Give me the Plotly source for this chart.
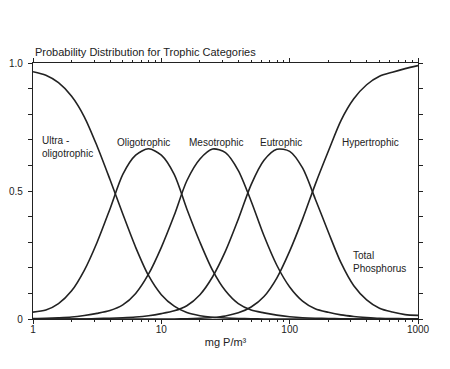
import math
import plotly.graph_objects as go

# Total phosphorus (mg/m3), log-spaced sample points
tp = [1, 1.26, 1.58, 2, 2.51, 3.16, 3.98, 5.01, 6.31, 7.94, 10, 12.6, 15.8, 20, 25.1,
      31.6, 39.8, 50.1, 63.1, 79.4, 100, 126, 158, 200, 251, 316, 398, 501, 631, 794, 1000]

ultra = [0.966, 0.952, 0.923, 0.87, 0.79, 0.675, 0.545, 0.41, 0.28, 0.17, 0.095, 0.05, 0.025,
         0.013, 0.007, 0.004, 0.002, 0.001, 0, 0, 0, 0, 0, 0, 0, 0, 0, 0, 0, 0, 0]
oligo = [0.027, 0.035, 0.06, 0.11, 0.19, 0.30, 0.43, 0.565, 0.64, 0.665, 0.64, 0.565, 0.43,
         0.30, 0.19, 0.11, 0.06, 0.035, 0.024, 0.015, 0.009, 0.005, 0.003, 0.002, 0.001,
         0, 0, 0, 0, 0, 0]
meso = [0.002, 0.003, 0.005, 0.008, 0.014, 0.022, 0.033, 0.055, 0.10, 0.175, 0.28, 0.405,
        0.54, 0.625, 0.664, 0.65, 0.58, 0.46, 0.325, 0.21, 0.125, 0.07, 0.04, 0.026, 0.016,
        0.01, 0.006, 0.003, 0.002, 0.001, 0.001]
eutro = [0, 0, 0, 0, 0, 0.002, 0.003, 0.005, 0.008, 0.013, 0.021, 0.032, 0.052, 0.095,
         0.165, 0.265, 0.39, 0.525, 0.62, 0.663, 0.655, 0.59, 0.47, 0.34, 0.22, 0.13, 0.075,
         0.042, 0.027, 0.017, 0.014]
hyper = [0, 0, 0, 0, 0, 0, 0, 0, 0, 0, 0, 0, 0.001, 0.003, 0.006, 0.012, 0.024, 0.047,
         0.088, 0.16, 0.265, 0.39, 0.525, 0.655, 0.775, 0.86, 0.915, 0.948, 0.964, 0.978, 0.99]

series = [ultra, oligo, meso, eutro, hyper]

# category labels and where they sit (x in mg/m3, y in probability)
labels = ["Ultra -<br>oligotrophic", "Oligotrophic", "Mesotrophic", "Eutrophic",
          "Hypertrophic", "Total<br>Phosphorus"]
label_x = [1.13, 7.2, 26.8, 86, 427, 302]
label_y = [0.67, 0.69, 0.69, 0.69, 0.69, 0.223]
label_anchor = ["left", "center", "center", "center", "center", "left"]

yticks = [0, 0.1, 0.2, 0.3, 0.4, 0.5, 0.6, 0.7, 0.8, 0.9, 1.0]
yticktext = ["0", "", "", "", "", "0.5", "", "", "", "", "1.0"]
xticks = [1, 10, 100, 1000]
xticktext = ["1", "10", "100", "1000"]
xminor = [2, 3, 4, 5, 6, 7, 8, 9, 20, 30, 40, 50, 60, 70, 80, 90,
          200, 300, 400, 500, 600, 700, 800, 900]

INK = "#222222"
FONT = "Liberation Sans, Arial, sans-serif"

fig = go.Figure()
for s in series:
    fig.add_trace(go.Scatter(x=tp, y=s, mode="lines",
                             line=dict(color=INK, width=1.6, shape="spline", smoothing=0.8),
                             showlegend=False, hoverinfo="skip"))

for t, lx, ly, an in zip(labels, label_x, label_y, label_anchor):
    fig.add_annotation(x=math.log10(lx), y=ly, xref="x", yref="y", text=t, showarrow=False,
                       xanchor=an, yanchor="middle", align="left",
                       font=dict(family=FONT, size=10, color=INK))

fig.add_annotation(x=0, y=1, xref="paper", yref="paper", xanchor="left", yanchor="bottom",
                   yshift=3, showarrow=False,
                   text="Probability Distribution for Trophic Categories",
                   font=dict(family=FONT, size=11, color=INK))

fig.update_xaxes(type="log", range=[0, 3], showline=True, linecolor=INK, linewidth=1.3,
                 mirror="ticks", ticks="outside", ticklen=4, tickcolor=INK,
                 tickvals=xticks, ticktext=xticktext, showgrid=False, zeroline=False,
                 ticklabelstandoff=-3, automargin=False,
                 minor=dict(tickvals=xminor, ticks="outside", ticklen=2, tickcolor=INK,
                            showgrid=False),
                 tickfont=dict(family=FONT, size=10, color=INK),
                 title=dict(text="mg P/m³", font=dict(family=FONT, size=11, color=INK),
                            standoff=4))
fig.update_yaxes(range=[0, 1], showline=True, linecolor=INK, linewidth=1.3,
                 mirror="ticks", ticks="outside", ticklen=4, tickcolor=INK,
                 tickvals=yticks, ticktext=yticktext, showgrid=False, zeroline=False,
                 ticklabelstandoff=3, automargin=False,
                 tickfont=dict(family=FONT, size=10, color=INK))

# the page body adds an 8px margin, so the figure is sized to fit the window
fig.update_layout(width=442, height=361, margin=dict(l=25, r=32, t=55, b=50),
                  paper_bgcolor="white", plot_bgcolor="white")

fig.write_html("out.html")
